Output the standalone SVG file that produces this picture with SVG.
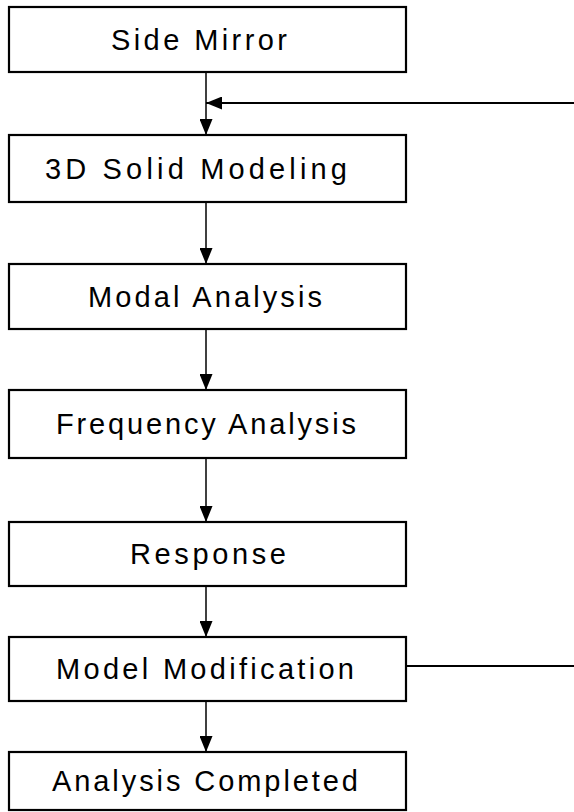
<svg xmlns="http://www.w3.org/2000/svg" width="574" height="812" viewBox="0 0 574 812">
  <style>
    .box { fill: #ffffff; stroke: #000000; stroke-width: 2.2; }
    .label { font-family: "Liberation Sans", Arial, sans-serif; font-size: 29px; fill: #000000; text-anchor: middle; dominant-baseline: central; }
    .wire { fill: none; stroke: #000000; stroke-width: 1.5; }
    .wire-bold { fill: none; stroke: #000000; stroke-width: 2; }
  </style>
  <defs>
    <marker id="arrow" viewBox="0 0 16 13" refX="16" refY="6.5" markerWidth="16" markerHeight="13" markerUnits="userSpaceOnUse" orient="auto">
      <path d="M0,0 L16,6.5 L0,13 Z" fill="#000000"/>
    </marker>
  </defs>
  <rect width="574" height="812" fill="#ffffff"/>

  <!-- process steps -->
  <g id="side-mirror">
    <rect class="box" x="9" y="7" width="397" height="65"/>
    <text class="label" x="199" y="40" textLength="176" lengthAdjust="spacing">Side Mirror</text>
  </g>
  <g id="solid-modeling">
    <rect class="box" x="9" y="135" width="397" height="67"/>
    <text class="label" x="196" y="169" textLength="302" lengthAdjust="spacing">3D Solid Modeling</text>
  </g>
  <g id="modal-analysis">
    <rect class="box" x="9" y="264" width="397" height="65"/>
    <text class="label" x="205" y="297" textLength="234" lengthAdjust="spacing">Modal Analysis</text>
  </g>
  <g id="frequency-analysis">
    <rect class="box" x="9" y="390" width="397" height="68"/>
    <text class="label" x="206" y="424" textLength="300" lengthAdjust="spacing">Frequency Analysis</text>
  </g>
  <g id="response">
    <rect class="box" x="9" y="522" width="397" height="64"/>
    <text class="label" x="208" y="554" textLength="156" lengthAdjust="spacing">Response</text>
  </g>
  <g id="model-modification">
    <rect class="box" x="9" y="637" width="397" height="64"/>
    <text class="label" x="205" y="669" textLength="298" lengthAdjust="spacing">Model Modification</text>
  </g>
  <g id="analysis-completed">
    <rect class="box" x="9" y="752" width="397" height="58"/>
    <text class="label" x="205" y="781" textLength="306" lengthAdjust="spacing">Analysis Completed</text>
  </g>

  <!-- connectors -->
  <g id="connectors">
    <line class="wire" x1="206" y1="72" x2="206" y2="135" marker-end="url(#arrow)"/>
    <line class="wire-bold" x1="574" y1="103" x2="206" y2="103" marker-end="url(#arrow)"/>
    <line class="wire" x1="206" y1="202" x2="206" y2="264" marker-end="url(#arrow)"/>
    <line class="wire" x1="206" y1="329" x2="206" y2="390" marker-end="url(#arrow)"/>
    <line class="wire" x1="206" y1="458" x2="206" y2="522" marker-end="url(#arrow)"/>
    <line class="wire" x1="206" y1="586" x2="206" y2="637" marker-end="url(#arrow)"/>
    <line class="wire" x1="206" y1="701" x2="206" y2="752" marker-end="url(#arrow)"/>
    <line class="wire-bold" x1="406" y1="666" x2="574" y2="666"/>
  </g>
</svg>
